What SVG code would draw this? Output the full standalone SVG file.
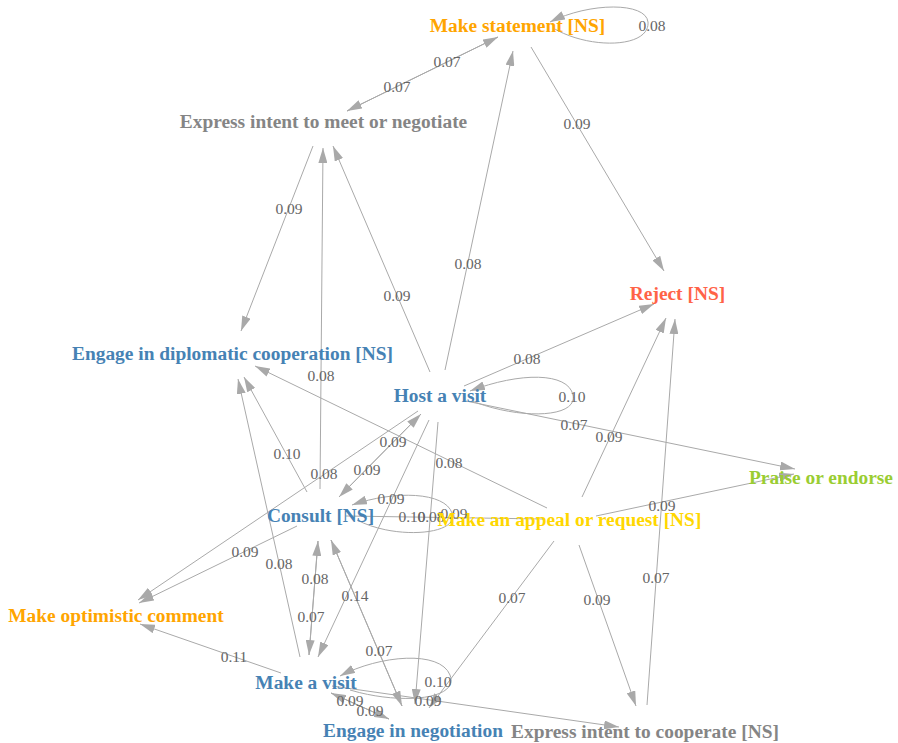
<svg xmlns="http://www.w3.org/2000/svg" width="898" height="743" viewBox="0 0 898 743">
<defs>
<marker id="arr" viewBox="0 0 15 9" refX="15" refY="4.5" markerWidth="15" markerHeight="9" markerUnits="userSpaceOnUse" orient="auto">
<path d="M0,0 L15,4.5 L0,9 z" fill="#A9A9A9"/>
</marker>
<style>
.e{fill:none;stroke:#A9A9A9;stroke-width:1;marker-end:url(#arr)}
.n{fill:none;stroke:#A9A9A9;stroke-width:1}
.el{font-family:"Liberation Serif",serif;font-size:15.5px;fill:#666666;text-anchor:middle}
.nl{font-family:"Liberation Serif",serif;font-size:19.4px;font-weight:bold;text-anchor:middle}
.blue{fill:#4682B4}.orange{fill:#FFA500}.gray{fill:#858585}.red{fill:#FF6347}.green{fill:#9ACD32}.gold{fill:#FFD700}
</style>
</defs>
<rect width="898" height="743" fill="#FFFFFF"/>
<g id="connectors">
<path class="e" d="M498,37 L347,111"/>
<path class="e" d="M347,111 L498,37"/>
<path class="e" d="M553,28 C590,50 650,48 648,22 C646,2 590,2 550,22"/>
<path class="e" d="M531,47 L664,271"/>
<path class="e" d="M445,370 L513,51"/>
<path class="e" d="M430,372 L333,146"/>
<path class="e" d="M313,146 L241,331"/>
<path class="e" d="M320,489 L323,148"/>
<path class="e" d="M464,386 L654,304"/>
<path class="e" d="M472,401 C520,420 578,418 573,395 C568,372 520,372 470,391"/>
<path class="e" d="M466,401 L795,469"/>
<path class="e" d="M582,497 L666,318"/>
<path class="e" d="M647,705 L675,319"/>
<path class="e" d="M596,516 L794,474"/>
<path class="e" d="M547,508 L255,366"/>
<path class="e" d="M307,492 L244,377"/>
<path class="e" d="M300,657 L238,379"/>
<path class="e" d="M421,414 L339,497"/>
<path class="e" d="M339,497 L421,414"/>
<path class="e" d="M418,411 L138,600"/>
<path class="e" d="M297,526 L139,603"/>
<path class="e" d="M281,673 L140,624"/>
<path class="e" d="M318,541 L309,655"/>
<path class="e" d="M309,655 L318,541"/>
<path class="e" d="M429,420 L318,657"/>
<path class="e" d="M331,540 L402,706"/>
<path class="e" d="M402,706 L331,540"/>
<path class="e" d="M438,422 L415,704"/>
<path class="e" d="M554,541 L429,708"/>
<path class="e" d="M579,545 L636,706"/>
<path class="e" d="M331,693 L389,719"/>
<path class="e" d="M389,719 L331,693"/>
<path class="e" d="M332,686 L619,727"/>
<path class="e" d="M350,690 C400,705 460,700 450,675 C440,650 380,655 340,676"/>
<path class="e" d="M357,520 C395,540 460,535 452,513 C445,492 395,490 352,505"/>
<path class="n" d="M346,516 L544,519"/>
<g id="edge-labels">
<text class="el" x="447" y="67">0.07</text>
<text class="el" x="397" y="92">0.07</text>
<text class="el" x="652" y="31">0.08</text>
<text class="el" x="577" y="129">0.09</text>
<text class="el" x="289" y="214">0.09</text>
<text class="el" x="468" y="269">0.08</text>
<text class="el" x="397" y="301">0.09</text>
<text class="el" x="527" y="364">0.08</text>
<text class="el" x="321" y="381">0.08</text>
<text class="el" x="572" y="402">0.10</text>
<text class="el" x="574" y="430">0.07</text>
<text class="el" x="609" y="442">0.09</text>
<text class="el" x="393" y="447">0.09</text>
<text class="el" x="287" y="459">0.10</text>
<text class="el" x="449" y="468">0.08</text>
<text class="el" x="324" y="479">0.08</text>
<text class="el" x="367" y="475">0.09</text>
<text class="el" x="391" y="504">0.09</text>
<text class="el" x="412" y="522">0.10</text>
<text class="el" x="431" y="522">0.08</text>
<text class="el" x="454" y="519">0.09</text>
<text class="el" x="662" y="511">0.09</text>
<text class="el" x="245" y="557">0.09</text>
<text class="el" x="279" y="569">0.08</text>
<text class="el" x="315" y="584">0.08</text>
<text class="el" x="656" y="583">0.07</text>
<text class="el" x="355" y="601">0.14</text>
<text class="el" x="512" y="603">0.07</text>
<text class="el" x="597" y="605">0.09</text>
<text class="el" x="311" y="622">0.07</text>
<text class="el" x="379" y="656">0.07</text>
<text class="el" x="234" y="662">0.11</text>
<text class="el" x="438" y="687">0.10</text>
<text class="el" x="350" y="706">0.09</text>
<text class="el" x="370" y="716">0.09</text>
<text class="el" x="428" y="706">0.09</text>
</g>
</g>
<g id="make-statement"><text class="nl orange" x="517.5" y="32">Make statement [NS]</text></g>
<g id="express-intent-meet"><text class="nl gray" x="323.5" y="128">Express intent to meet or negotiate</text></g>
<g id="reject"><text class="nl red" x="677.5" y="299.5">Reject [NS]</text></g>
<g id="engage-diplomatic"><text class="nl blue" x="232.5" y="360">Engage in diplomatic cooperation [NS]</text></g>
<g id="host-visit"><text class="nl blue" x="440" y="401.5">Host a visit</text></g>
<g id="praise"><text class="nl green" x="821" y="484">Praise or endorse</text></g>
<g id="consult"><text class="nl blue" x="320.5" y="521.5">Consult [NS]</text></g>
<g id="appeal"><text class="nl gold" x="569.5" y="526">Make an appeal or request [NS]</text></g>
<g id="optimistic"><text class="nl orange" x="116" y="621.5">Make optimistic comment</text></g>
<g id="make-visit"><text class="nl blue" x="306" y="688.5">Make a visit</text></g>
<g id="engage-negotiation"><text class="nl blue" x="413" y="736.5">Engage in negotiation</text></g>
<g id="express-intent-cooperate"><text class="nl gray" x="645" y="738">Express intent to cooperate [NS]</text></g>
</svg>
